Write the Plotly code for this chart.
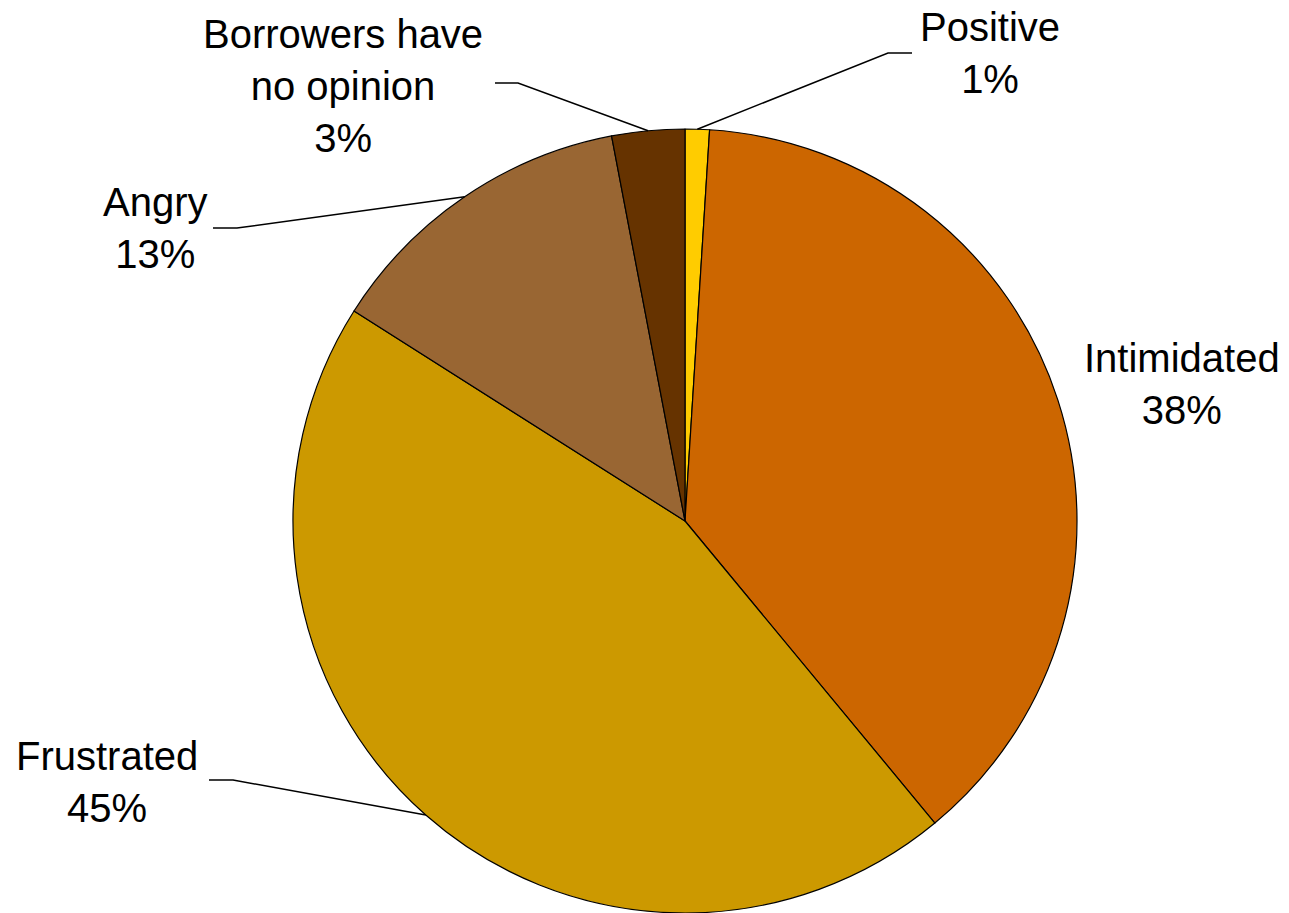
import math
import plotly.graph_objects as go

# Survey answers, clockwise from 12 o'clock
categories = ["Positive", "Intimidated", "Frustrated", "Angry", "Borrowers have no opinion"]
label_text = ["Positive", "Intimidated", "Frustrated", "Angry", "Borrowers have<br>no opinion"]
values = [1, 38, 45, 13, 3]
colors = ["#FFCC00", "#CC6600", "#CC9900", "#996633", "#663300"]

W, H = 1289, 913
# pie geometry in page pixels
CX, CY, R = 685, 521, 392

# label placement (pixels) and leader-line knee / end points; None = no leader
label_pos = {
    "Positive": (990, 53),
    "Intimidated": (1182, 384),
    "Frustrated": (107, 782),
    "Angry": (155, 228),
    "Borrowers have no opinion": (343, 86),
}
leader_knee = {
    "Positive": ((888, 53), (912, 53)),
    "Intimidated": None,
    "Frustrated": ((233, 780), (209, 780)),
    "Angry": ((237, 228), (213, 228)),
    "Borrowers have no opinion": ((518, 83), (495, 83)),
}

fig = go.Figure()
fig.add_trace(go.Pie(
    labels=categories,
    values=values,
    sort=False,
    direction="clockwise",
    rotation=0,
    marker=dict(colors=colors, line=dict(color="black", width=1.2)),
    textinfo="none",
    hoverinfo="label+percent",
    showlegend=False,
    domain=dict(x=[(CX - R) / W, (CX + R) / W], y=[0, (2 * R) / H]),
))

total = sum(values)
shapes = []
annotations = []
cum = 0.0
font = dict(family="Liberation Sans, Arial, sans-serif", size=40, color="black")
for cat, txt, v in zip(categories, label_text, values):
    mid = (cum + v / 2) / total * 2 * math.pi
    cum += v
    pct = round(v / total * 100)
    lx, ly = label_pos[cat]
    annotations.append(dict(
        x=lx, y=ly, xref="x", yref="y", text=f"{txt}<br>{pct}%",
        showarrow=False, xanchor="center", yanchor="middle", align="center",
        font=font,
    ))
    knee = leader_knee[cat]
    if knee:
        ex = CX + R * math.sin(mid)
        ey = CY - R * math.cos(mid)
        (kx, ky), (tx, ty) = knee
        shapes.append(dict(
            type="path", xref="x", yref="y",
            path=f"M {ex:.1f},{ey:.1f} L {kx},{ky} L {tx},{ty}",
            line=dict(color="black", width=1.5),
        ))

fig.update_layout(
    width=W, height=H,
    margin=dict(l=0, r=0, t=0, b=0),
    paper_bgcolor="white", plot_bgcolor="rgba(0,0,0,0)",
    xaxis=dict(range=[0, W], visible=False, fixedrange=True, domain=[0, 1]),
    yaxis=dict(range=[H, 0], visible=False, fixedrange=True, domain=[0, 1]),
    shapes=shapes,
    annotations=annotations,
)

fig.write_html("out.html", config={"displayModeBar": False})
